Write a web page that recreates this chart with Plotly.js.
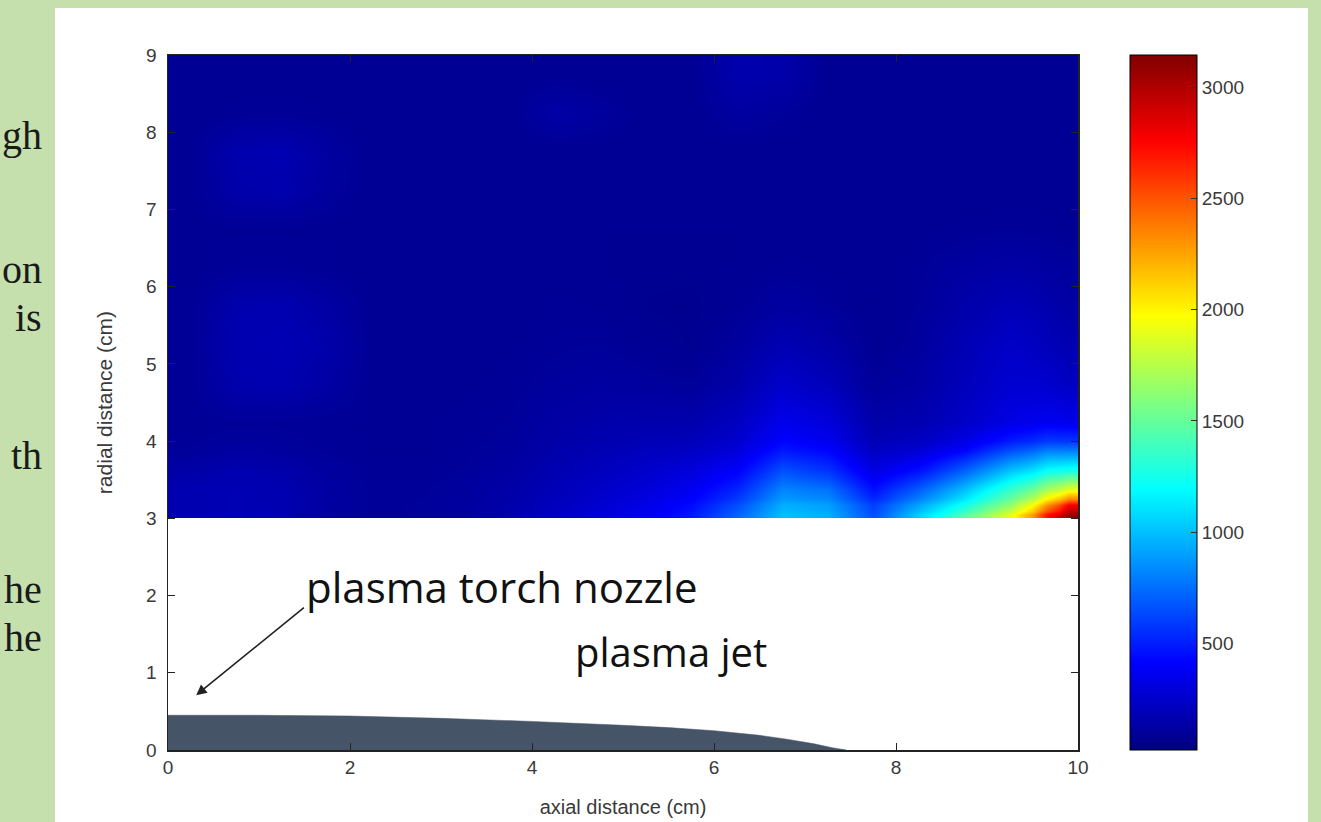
<!DOCTYPE html>
<html>
<head>
<meta charset="utf-8">
<script src="https://cdn.plot.ly/plotly-3.0.1.min.js"></script>
<style>
  html, body { margin:0; padding:0; width:1321px; height:822px; overflow:hidden; background:#c5e0ad; }
  #panel { position:absolute; left:55px; top:8px; width:1253px; height:830px; background:#ffffff; }
  #chart { position:absolute; left:0; top:0; width:1321px; height:822px; }
</style>
</head>
<body>
<div id="panel"></div>
<div id="chart"></div>
<script>
// grid cell edges (cm)
const xEdges = [0,0.5,1,1.5,2,2.5,3,3.5,4,4.5,5,5.5,6,6.5,7,7.5,8,8.5,9,9.5,9.8,10];
const yEdges = [3,3.1,3.25,3.5,3.75,4,4.5,5,5.5,6,6.5,7,7.5,8,8.5,9];

// temperature rows (bottom to top)
const z_3_05 = [170,180,170,120,95,100,120,160,220,290,360,480,720,1000,950,650,1050,1450,1900,2700,3100];
const z_3_18 = [170,180,170,120,95,100,115,150,210,270,340,440,650,950,900,600,920,1250,1650,2300,2800];
const z_3_38 = [170,180,165,125,95,95,110,140,190,240,290,370,520,820,760,450,700,1000,1350,1700,1900];
const z_3_63 = [140,165,150,115,90,90,100,125,170,210,250,300,400,650,560,320,450,700,1000,1200,1250];
const z_3_88 = [100,125,115,95,85,85,95,110,150,180,210,230,300,480,420,220,280,420,650,800,800];
const z_4_25 = [90,95,95,90,85,85,90,100,130,150,160,160,220,350,300,150,170,240,330,370,350];
const z_4_75 = [90,160,170,130,85,80,85,90,110,120,110,100,150,250,200,100,130,200,270,260,220];
const z_5_25 = [90,170,180,150,85,80,80,85,95,100,80,70,110,180,140,80,110,180,240,200,170];
const z_5_75 = [90,160,170,130,85,80,80,80,90,85,70,65,90,120,100,75,100,150,190,160,130];
const z_6_25 = [85,95,95,90,80,80,80,80,80,80,75,75,80,90,85,80,95,120,140,120,110];
const z_6_75 = [85,85,85,85,80,80,80,80,80,80,80,80,80,80,80,80,85,90,95,90,85];
const z_7_25 = [85,150,160,110,80,80,80,80,80,80,80,80,80,80,80,80,80,80,80,80,80];
const z_7_75 = [85,160,170,120,80,80,80,80,80,80,80,80,80,80,80,80,80,80,80,80,80];
const z_8_25 = [80,90,95,85,80,80,80,80,140,110,80,80,120,100,80,80,80,80,80,80,80];
const z_8_75 = [80,80,80,80,80,80,80,80,85,80,80,80,160,150,80,80,80,80,80,80,80];

// plasma jet outline
const jetX = [0,0,1,2,3,4,5,5.5,6,6.5,6.8,7.1,7.3,7.45,0];
const jetY = [0,0.45,0.45,0.44,0.41,0.37,0.32,0.29,0.25,0.19,0.14,0.08,0.03,0,0];

const colorTicks = [500,1000,1500,2000,2500,3000];
const xTicks = [0,2,4,6,8,10];
const yTicks = [0,1,2,3,4,5,6,7,8,9];
const zMin = 20, zMax = 3145;

// side text fragments of the slide
const sideText = ['gh','on','is','th','he','he'];
const sideTextY = [160,294,342,480,614,662];

const jet = [[0,'rgb(0,0,128)'],[0.125,'rgb(0,0,255)'],[0.375,'rgb(0,255,255)'],
             [0.625,'rgb(255,255,0)'],[0.875,'rgb(255,0,0)'],[1,'rgb(128,0,0)']];

const W = 1321, H = 822, L = 168, R = 243, T = 55, B = 72;
const pw = W - L - R, ph = H - T - B;
function px2paperX(px){ return (px - L) / pw; }
function px2paperY(py){ return (H - B - py) / ph; }

const tickFont = {family:'Liberation Sans, Arial, sans-serif', size:19, color:'#3a3a3a'};

const traces = [
  {
    type:'heatmap',
    x: xEdges, y: yEdges,
    z: [z_3_05,z_3_18,z_3_38,z_3_63,z_3_88,z_4_25,z_4_75,z_5_25,z_5_75,z_6_25,z_6_75,z_7_25,z_7_75,z_8_25,z_8_75],
    zsmooth:'best', zmin:zMin, zmax:zMax, colorscale:jet,
    colorbar:{
      x: px2paperX(1130), xanchor:'left', xpad:0, ypad:0,
      y:0.5, yanchor:'middle', len:1, lenmode:'fraction',
      thickness:67, outlinecolor:'#000', outlinewidth:1,
      tickvals: colorTicks, ticks:'inside', ticklen:6, tickcolor:'#333',
      tickfont: tickFont
    },
    hoverinfo:'skip'
  },
  {
    type:'scatter', mode:'lines', x: jetX, y: jetY,
    fill:'toself', fillcolor:'rgb(70,84,104)',
    line:{color:'rgb(70,84,104)', width:0.5},
    hoverinfo:'skip', showlegend:false
  }
];

const annotations = [
  {x:3.67, y:2.12, xref:'x', yref:'y', text:'plasma torch nozzle', showarrow:false,
   xanchor:'center', yanchor:'middle', font:{family:'Open Sans, sans-serif', size:42, color:'#111'}},
  {x:5.53, y:1.27, xref:'x', yref:'y', text:'plasma jet', showarrow:false,
   xanchor:'center', yanchor:'middle', font:{family:'Open Sans, sans-serif', size:40, color:'#111'}},
  {x:0.31, y:0.71, ax:1.51, ay:1.86, xref:'x', yref:'y', axref:'x', ayref:'y',
   text:'', showarrow:true, arrowhead:2, arrowsize:1.3, arrowwidth:1.6, arrowcolor:'#222'}
];
sideText.forEach((t,i)=>{
  annotations.push({xref:'paper', yref:'paper', x:px2paperX(44), y:px2paperY(sideTextY[i]),
    xanchor:'right', yanchor:'bottom', text:t, showarrow:false,
    font:{family:'Liberation Serif, Times New Roman, serif', size:40, color:'#1a1a1a'}});
});

const layout = {
  width:W, height:H,
  margin:{l:L, r:R, t:T, b:B},
  paper_bgcolor:'rgba(0,0,0,0)', plot_bgcolor:'#ffffff',
  showlegend:false,
  xaxis:{range:[0,10], tickvals:xTicks, ticks:'inside', ticklen:7, tickcolor:'#222',
         showline:true, linecolor:'#222', linewidth:1.5, mirror:'ticks', zeroline:false, showgrid:false,
         tickfont:tickFont, automargin:false,
         title:{text:'axial distance (cm)', font:{family:'Liberation Sans, Arial, sans-serif', size:20, color:'#3a3a3a'}, standoff:22}},
  yaxis:{range:[0,9], tickvals:yTicks, ticks:'inside', ticklen:7, tickcolor:'#222',
         showline:true, linecolor:'#222', linewidth:1.5, mirror:'ticks', zeroline:false, showgrid:false,
         tickfont:tickFont, automargin:false, ticklabelstandoff:6,
         title:{text:'radial distance (cm)', font:{family:'Liberation Sans, Arial, sans-serif', size:21, color:'#3a3a3a'}, standoff:28}},
  annotations: annotations
};

Plotly.newPlot('chart', traces, layout, {displayModeBar:false, staticPlot:true});
</script>
</body>
</html>
